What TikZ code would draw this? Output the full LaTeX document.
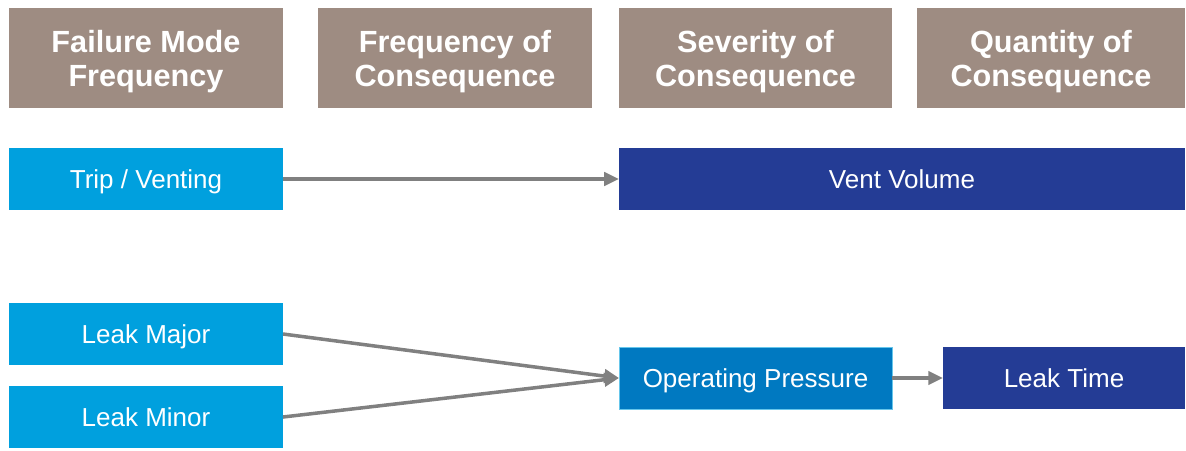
\documentclass[tikz,border=0pt]{standalone}
\usepackage{fontspec}
\setmainfont{Liberation Sans}
\usetikzlibrary{arrows.meta,positioning}

\definecolor{hdrgray}{HTML}{9E8C82}
\definecolor{lightblue}{HTML}{00A0DE}
\definecolor{midblue}{HTML}{0079C1}
\definecolor{darkblue}{HTML}{243C95}
\definecolor{arrgray}{HTML}{808080}

\tikzset{
	hdr/.style={rectangle,fill=hdrgray,text=white,align=center,inner sep=0pt,outer sep=0pt,
		minimum height=2.5cm,text depth=0pt,font=\bfseries\fontsize{21.8}{24.2}\selectfont},
	modebox/.style={rectangle,fill=lightblue,text=white,inner sep=0pt,outer sep=0pt,
		minimum width=6.85cm,minimum height=1.55cm,text height=13.2pt,text depth=0pt,
		font=\fontsize{18.5}{20}\selectfont},
	flow/.style={-{Triangle[length=10.5pt,width=9.5pt]},arrgray,line width=2.5pt}
}

\begin{document}
\begin{tikzpicture}
\useasboundingbox (0,0) rectangle (29.65,-11.25);

\node[hdr,minimum width=6.85cm] (hdr_fmf) at (3.65,-1.45) {Failure Mode\\Frequency};
\node[hdr,minimum width=6.85cm] (hdr_foc) at (11.375,-1.45) {Frequency of\\Consequence};
\node[hdr,minimum width=6.825cm] (hdr_soc) at (18.8875,-1.45) {Severity of\\Consequence};
\node[hdr,minimum width=6.7cm] (hdr_qoc) at (26.275,-1.45) {Quantity of\\Consequence};


\node[modebox] (trip) at (3.65,-4.475) {Trip / Venting};

\node[modebox,fill=darkblue,minimum width=14.15cm] (vent_vol) at (22.55,-4.475) {Vent Volume};

\path[flow] (trip.east) edge (vent_vol.west);


\node[modebox] (leak_major) at (3.65,-8.35) {Leak Major};
\node[modebox,below=0.525cm of leak_major] (leak_minor) {Leak Minor};

\node[modebox,fill=midblue,draw=lightblue!60,line width=0.6pt,minimum width=6.825cm] (op_press) at (18.8875,-9.45) {Operating Pressure};

\path[flow] (leak_major.east) edge (op_press.west);
\path[flow] (leak_minor.east) edge (op_press.west);


\node[modebox,fill=darkblue,minimum width=6.05cm,right=1.275cm of op_press] (leak_time) {Leak Time};

\path[flow] (op_press.east) edge (leak_time.west);

\end{tikzpicture}
\end{document}
